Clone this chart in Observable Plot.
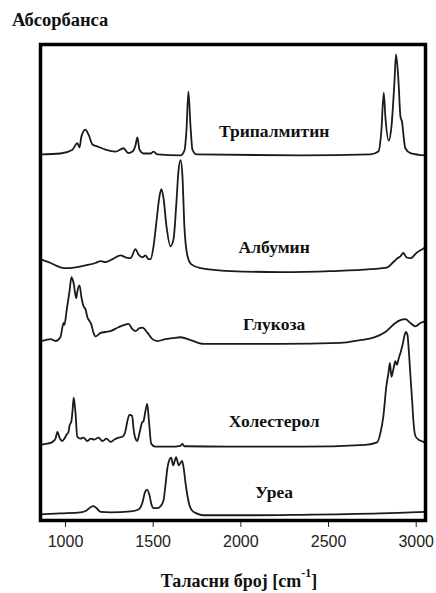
<!DOCTYPE html>
<html>
<head>
<meta charset="utf-8">
<script src="https://cdn.jsdelivr.net/npm/d3@7"></script>
<script src="https://cdn.jsdelivr.net/npm/@observablehq/plot@0.6"></script>
<style>
  html, body { margin: 0; padding: 0; background: #fff; }
  #wrap { position: relative; width: 436px; height: 593px; overflow: hidden; }
  #chart { position: absolute; left: 0; top: 0; z-index: 0; }
  .ttl {
    position: absolute; left: 12px; top: 11px; z-index: 2;
    font: bold 18.5px "Liberation Serif", "Times New Roman", serif; line-height: 1; color: #111;
  }
  .xlab {
    position: absolute; left: 0; width: 478px; top: 572px; text-align: center; z-index: 2;
    font: bold 18px "Liberation Serif", "Times New Roman", serif; line-height: 1; color: #111;
  }
  .xlab .sup { font-size: 12px; position: relative; top: -10px; }
  #chart svg g[aria-label="x-axis tick label"] { font-size: 16px; font-family: "Liberation Sans", Arial, sans-serif; fill: #222; }
</style>
</head>
<body>
<div id="wrap">
  <div id="chart"></div>
  <div class="ttl">Абсорбанса</div>
  <div class="xlab">Таласни број [cm<span class="sup">-1</span>]</div>
</div>
<script>
// FT-IR spectra: [wavenumber cm^-1, absorbance above the trace's own baseline]
const tripalmitin = [
  [857.5,0],[971,0.02],[1040,0.10],[1067,0.24],[1080,0.15],[1091,0.38],[1114,0.52],[1131,0.42],
  [1154,0.21],[1181,0.17],[1228,0.10],[1285,0.06],[1331,0.13],[1348,0.06],[1359,0.03],[1382,0.06],
  [1399,0.19],[1410,0.36],[1422,0.10],[1445,0.02],[1485,0.02],[1502,0.06],[1525,0],[1656,-0.02],
  [1678,0.08],[1690,0.52],[1701,1.32],[1713,0.59],[1724,0.10],[1747,0],[2340,-0.02],[2739,0],
  [2784,0.06],[2801,0.48],[2815,1.30],[2824,0.80],[2843,0.29],[2859,0.59],[2876,1.53],[2885,2.10],
  [2899,1.53],[2910,0.80],[2920,0.67],[2927,0.42],[2938,0.13],[2967,0.03],[3053,-0.02]
];
const albumin = [
  [857.5,0.21],[915,0.13],[971,0.04],[1011,0.02],[1057,0.04],[1114,0.08],[1171,0.13],[1200,0.17],
  [1228,0.15],[1268,0.21],[1314,0.29],[1342,0.25],[1371,0.23],[1399,0.42],[1416,0.31],[1439,0.25],
  [1456,0.29],[1473,0.21],[1485,0.21],[1502,0.48],[1519,1.01],[1536,1.53],[1547,1.68],[1559,1.49],
  [1576,0.90],[1599,0.48],[1616,0.63],[1633,1.43],[1644,2.05],[1656,2.29],[1667,1.95],[1678,0.90],
  [1696,0.27],[1718,0.10],[1770,0.02],[1941,-0.04],[2226,-0.06],[2511,-0.04],[2739,0],[2836,0.04],
  [2870,0.15],[2893,0.23],[2910,0.27],[2927,0.34],[2944,0.25],[2967,0.23],[3001,0.34],[3035,0.42],[3053,0.46]
];
const glucose = [
  [857.5,0],[886,0.02],[915,0.04],[943,0],[971,0.08],[989,0.38],[994,0.34],[1006,0.63],[1023,1.05],
  [1034,1.34],[1046,1.22],[1061,0.90],[1068,1.05],[1080,1.17],[1091,0.92],[1103,0.73],[1114,0.67],
  [1125,0.50],[1137,0.42],[1148,0.34],[1160,0.17],[1171,0.10],[1200,0.17],[1228,0.19],[1257,0.21],
  [1302,0.29],[1336,0.34],[1359,0.36],[1382,0.25],[1399,0.21],[1422,0.27],[1439,0.28],[1468,0.17],
  [1496,0.04],[1525,0],[1570,0.04],[1610,0.06],[1656,0.08],[1713,0.02],[1787,-0.06],[1941,-0.06],
  [2226,-0.06],[2568,-0.04],[2682,0.02],[2756,0.07],[2824,0.19],[2881,0.38],[2910,0.44],[2938,0.46],
  [2967,0.38],[2995,0.31],[3024,0.38],[3053,0.42]
];
const cholesterol = [
  [857.5,0.02],[886,0.04],[915,0.06],[932,0.10],[943,0.15],[954,0.29],[966,0.17],[981,0.10],
  [994,0.15],[1006,0.23],[1017,0.29],[1023,0.42],[1034,0.52],[1040,0.73],[1047,1.01],[1057,0.69],
  [1067,0.19],[1086,0.15],[1103,0.17],[1125,0.10],[1143,0.15],[1165,0.13],[1188,0.17],[1211,0.10],
  [1234,0.15],[1257,0.08],[1279,0.13],[1302,0.17],[1325,0.19],[1342,0.31],[1353,0.52],[1365,0.65],
  [1380,0.63],[1388,0.36],[1399,0.15],[1409,0.10],[1422,0.27],[1437,0.49],[1445,0.52],[1456,0.73],
  [1466,0.88],[1476,0.52],[1489,0.04],[1513,-0.02],[1599,-0.02],[1656,0],[1667,0.04],[1678,-0.01],
  [1941,-0.02],[2340,-0.02],[2710,0.02],[2777,0.07],[2796,0.27],[2813,0.63],[2830,1.26],[2842,1.53],
  [2850,1.74],[2859,1.45],[2870,1.61],[2881,1.78],[2890,1.70],[2899,1.82],[2910,1.95],[2921,2.10],
  [2933,2.31],[2941,2.39],[2950,2.33],[2958,1.99],[2967,1.47],[2977,0.94],[2984,0.52],[2995,0.21],
  [3013,0.13],[3030,0.10],[3053,0.06]
];
const urea = [
  [857.5,0],[971,0.02],[1086,0.04],[1120,0.08],[1143,0.15],[1158,0.17],[1171,0.15],[1200,0.05],
  [1257,0.04],[1371,0.06],[1416,0.10],[1439,0.25],[1453,0.46],[1466,0.52],[1479,0.40],[1490,0.21],
  [1502,0.13],[1525,0.13],[1542,0.17],[1559,0.29],[1570,0.61],[1582,0.99],[1593,1.15],[1603,1.19],
  [1614,1.03],[1631,1.20],[1646,1.03],[1665,1.12],[1676,0.92],[1684,0.67],[1696,0.38],[1707,0.19],
  [1722,0.08],[1747,0.02],[1787,-0.02],[2055,-0.02],[2340,-0.01],[2796,0.02],[2967,0.04],[3053,0.05]
];

// compound names, vertical offsets of the stacked traces, and label heights
const names = ["Трипалмитин", "Албумин", "Глукоза", "Холестерол", "Уреа"];
const spectra = [tripalmitin, albumin, glucose, cholesterol, urea];
const offsets = [7.69, 5.28, 3.77, 1.57, 0.13];
const labelLift = [0.48, 0.45, 0.36, 0.52, 0.47];
const xTicks = [1000, 1500, 2000, 2500, 3000];

const rows = spectra.flatMap((s, i) =>
  s.map(([wn, a]) => ({name: names[i], wn, a: offsets[i] + a})));
const labels = names.map((name, i) => ({name, wn: 2190, a: offsets[i] + labelLift[i]}));

const chart = Plot.plot({
  width: 436,
  height: 560,
  marginTop: 44,
  marginBottom: 40,
  marginLeft: 40,
  marginRight: 11,
  style: {background: "transparent", overflow: "visible"},
  x: {domain: [857.5, 3053], ticks: xTicks, tickFormat: d3.format("d"), tickSize: 7, tickPadding: 8, label: null},
  y: {domain: [0, 10], axis: null},
  marks: [
    Plot.line(rows, {x: "wn", y: "a", z: "name", curve: "monotone-x", stroke: "#1b1b1b", strokeWidth: 1.8}),
    Plot.text(labels, {x: "wn", y: "a", text: "name", fill: "#111", fontSize: 17.5,
      fontWeight: "bold", fontFamily: "Liberation Serif, Times New Roman, serif"}),
    Plot.frame({stroke: "black", strokeWidth: 3.5})
  ]
});
chart.querySelectorAll("g[aria-label='x-axis tick']").forEach(el => {
  el.setAttribute("stroke", "#222");
});
document.getElementById("chart").append(chart);
</script>
</body>
</html>
